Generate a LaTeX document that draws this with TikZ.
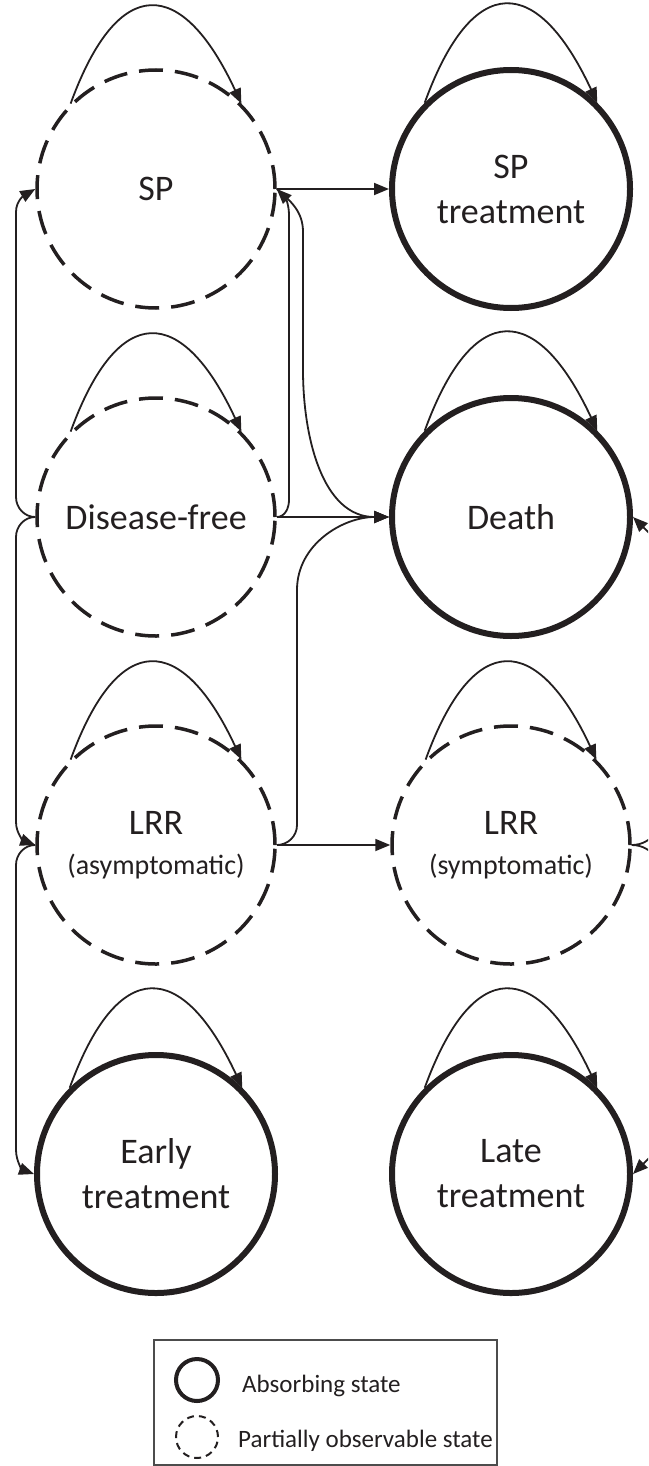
\documentclass[tikz,border=0pt]{standalone}
\usepackage{fontspec}
\setmainfont{Carlito}
\usetikzlibrary{arrows.meta}
\definecolor{ink}{RGB}{35,31,32}
\begin{document}
\begin{tikzpicture}[x=1pt,y=1pt,
  state/.style={circle, minimum size=238pt, inner sep=0pt, align=center, text=ink, font=\fontsize{36}{45}\selectfont},
  absorb/.style={state, draw=ink, line width=6pt},
  partial/.style={state, draw=ink, line width=3.5pt, dash pattern=on 24pt off 12pt},
  conn/.style={draw=ink, line width=1.8pt, -{Triangle[length=15pt,width=12pt]}},
  loopto/.style={out=70, in=115, looseness=2.1},
  legtext/.style={anchor=base west, inner sep=0pt, text=ink, font=\fontsize{25}{30}\selectfont}
]
\useasboundingbox (0,0) rectangle (648,-1466);
\clip (0,0) rectangle (648,-1466);

% states
\node[partial] (sp)    at (156,-189)  {SP};
\node[partial] (df)    at (156,-517)  {Disease-free};
\node[partial] (lrra)  at (156,-845)  {LRR\\[-5pt]{\fontsize{28}{34}\selectfont (asymptomatic)}};
\node[absorb]  (early) at (156,-1174) {Early\\treatment};
\node[absorb]  (spt)   at (511,-189)  {SP\\treatment};
\node[absorb]  (death) at (511,-517)  {Death};
\node[partial] (lrrs)  at (511,-845)  {LRR\\[-5pt]{\fontsize{28}{34}\selectfont (symptomatic)}};
\node[absorb]  (late)  at (511,-1174) {Late\\treatment};

% self loops
\foreach \n in {sp,df,lrra,early,spt,death,lrrs,late}
  \draw[conn] (\n.135) to[loopto] (\n.45);

% straight transitions
\draw[conn] (sp.east) -- (spt.west);
\draw[conn] (df.east) -- (death.west);
\draw[conn] (lrra.east) -- (lrrs.west);

% middle curved transitions
\draw[conn] (df.east) to[out=0,in=-90] (289,-500) -- (289,-215) to[out=90,in=-45] (sp.east);
\draw[conn] (sp.east) to[out=-40,in=90] (303,-232) -- (303,-370) to[out=-90,in=180] (death.west);
\draw[conn] (lrra.east) to[out=0,in=-90] (297,-825) -- (297,-590) to[out=90,in=180] (death.west);

% left side transitions
\draw[conn] (df.west) to[out=180,in=-90] (16,-497) -- (16,-212) to[out=90,in=-150] (sp.west);
\draw[conn] (df.west) to[out=180,in=90] (16,-537) -- (16,-822) to[out=-90,in=160] (lrra.west);
\draw[conn] (lrra.west) to[out=180,in=90] (16,-865) -- (16,-1150) to[out=-90,in=160] (early.west);

% right side transitions (partly outside the frame)
\draw[conn] (lrrs.east) to[out=0,in=-90] (665,-805) -- (665,-570) to[out=90,in=-45] (death.east);
\draw[conn] (lrrs.east) to[out=0,in=90] (665,-885) -- (665,-1120) to[out=-90,in=45] (late.east);

% legend
\node[draw=black!70, line width=1.2pt, minimum width=343pt, minimum height=125pt, inner sep=0pt] (legend) at (325.5,-1402.5) {};
\node[circle, draw=ink, line width=4pt, minimum size=42pt, inner sep=0pt] (labs) at (197,-1380) {};
\node[circle, draw=ink, line width=2pt, dash pattern=on 7pt off 5pt, minimum size=42pt, inner sep=0pt] (lpart) at (197,-1437) {};
\node[legtext] (tabs) at (242,-1392) {Absorbing state};
\node[legtext] (tpart) at (238,-1447) {Partially observable state};
\end{tikzpicture}
\end{document}
